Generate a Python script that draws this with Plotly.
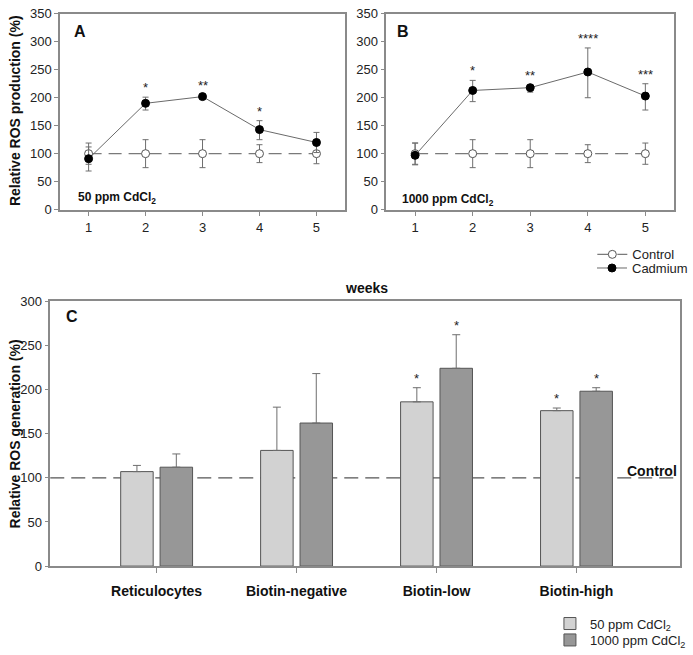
import plotly.graph_objects as go

# ---------------- data ----------------
weeks = [1, 2, 3, 4, 5]

a_control = [100, 100, 100, 100, 100]
a_control_err = [19, 25, 25, 16, 18]
a_cd = [91, 190, 202, 143, 120]
a_cd_err_plus = [21, 11, 3, 16, 18]
a_cd_err_minus = [22, 12, 3, 18, 18]
a_sig = ["", "*", "**", "*", ""]

b_control = [100, 100, 100, 100, 100]
b_control_err = [19, 25, 25, 16, 19]
b_cd = [97, 213, 218, 246, 203]
b_cd_err_plus = [22, 18, 4, 43, 22]
b_cd_err_minus = [17, 20, 8, 46, 25]
b_sig = ["", "*", "**", "****", "***"]

cells = ["Reticulocytes", "Biotin-negative", "Biotin-low", "Biotin-high"]
c_50 = [107, 131, 186, 176]
c_50_err = [7, 49, 16, 3]
c_1000 = [112, 162, 224, 198]
c_1000_err = [15, 56, 38, 4]
c_sig50 = ["", "", "*", "*"]
c_sig1000 = ["", "", "*", "*"]

W, H = 693, 655
FONT = "Arial, Liberation Sans, sans-serif"
AX = "#8a8a8a"
ERR = "#6e6e6e"

def px(x):
    return x / W

def py(y):
    return 1 - y / H

fig = go.Figure()

def add_panel(xa, ya, ctrl, ctrl_err, cd, cdp, cdm, show):
    fig.add_trace(go.Scatter(
        x=weeks, y=ctrl, xaxis=xa, yaxis=ya, name="Control", legend="legend",
        showlegend=show, mode="lines+markers",
        line=dict(color="#7a7a7a", width=1.2, dash="13px,7px"),
        marker=dict(symbol="circle", size=8, color="white", line=dict(color="#555", width=1)),
        error_y=dict(type="data", array=ctrl_err, color=ERR, thickness=1, width=3)))
    fig.add_trace(go.Scatter(
        x=weeks, y=cd, xaxis=xa, yaxis=ya, name="Cadmium", legend="legend3",
        showlegend=show, mode="lines+markers",
        line=dict(color="#6a6a6a", width=1),
        marker=dict(symbol="circle", size=8, color="black", line=dict(color="black", width=1)),
        error_y=dict(type="data", symmetric=False, array=cdp, arrayminus=cdm,
                     color=ERR, thickness=1, width=3)))

add_panel("x", "y", a_control, a_control_err, a_cd, a_cd_err_plus, a_cd_err_minus, False)
add_panel("x2", "y2", b_control, b_control_err, b_cd, b_cd_err_plus, b_cd_err_minus, True)

fig.add_trace(go.Bar(
    x=cells, y=c_50, xaxis="x3", yaxis="y3", name="50 ppm CdCl<sub>2</sub>", legend="legend2",
    marker=dict(color="#d2d2d2", line=dict(color="#555", width=1)),
    error_y=dict(type="data", symmetric=False, array=c_50_err, arrayminus=[0] * 4,
                 color=ERR, thickness=1, width=4)))
fig.add_trace(go.Bar(
    x=cells, y=c_1000, xaxis="x3", yaxis="y3", name="1000 ppm CdCl<sub>2</sub>", legend="legend4",
    marker=dict(color="#979797", line=dict(color="#555", width=1)),
    error_y=dict(type="data", symmetric=False, array=c_1000_err, arrayminus=[0] * 4,
                 color=ERR, thickness=1, width=4)))

ann = []
# significance stars panels A, B
for xa, ya, vals, errs, sig in [("x", "y", a_cd, a_cd_err_plus, a_sig),
                                ("x2", "y2", b_cd, b_cd_err_plus, b_sig)]:
    for w, v, e, s in zip(weeks, vals, errs, sig):
        if s:
            ann.append(dict(x=w, y=v + e, xref=xa, yref=ya, text=s, showarrow=False,
                            xanchor="center", yanchor="bottom", yshift=0,
                            font=dict(size=13, color="#222")))
# stars panel C
for i, (c, v, e, s) in enumerate(zip(cells, c_50, c_50_err, c_sig50)):
    if s:
        ann.append(dict(x=i, y=v + e, xref="x3", yref="y3", text=s, showarrow=False,
                        xshift=-20, xanchor="center", yanchor="bottom",
                        font=dict(size=13, color="#222")))
for i, (c, v, e, s) in enumerate(zip(cells, c_1000, c_1000_err, c_sig1000)):
    if s:
        ann.append(dict(x=i, y=v + e, xref="x3", yref="y3", text=s, showarrow=False,
                        xshift=20, xanchor="center", yanchor="bottom",
                        font=dict(size=13, color="#222")))

bold = dict(family=FONT, color="#111")

def note(x, y, text, size, xanchor="center", angle=0):
    return dict(x=px(x), y=py(y), xref="paper", yref="paper", text=text, showarrow=False,
                xanchor=xanchor, yanchor="middle", textangle=angle, font=dict(size=size, **bold))

ann += [
    note(73, 25, "<b>A</b>", 16, "left"),
    note(401, 25, "<b>B</b>", 16, "left"),
    note(65, 318, "<b>C</b>", 16, "left"),
    note(77, 196, "<b>50 ppm CdCl<sub>2</sub></b>", 12, "left"),
    note(406, 198, "<b>1000 ppm CdCl<sub>2</sub></b>", 12, "left"),
    note(372, 288, "<b>weeks</b>", 14),
    note(15, 106, "<b>Relative ROS production (%)</b>", 14, "center", -90),
    note(15, 438, "<b>Relative ROS generation (%)</b>", 14, "center", -90),
    dict(x=3.73, y=100, xref="x3", yref="y3", text="<b>Control</b>", showarrow=False,
         xanchor="right", yanchor="bottom", yshift=-3, font=dict(size=14, **bold)),
]

shapes = [dict(type="line", xref="x3 domain", yref="y3", x0=0, x1=1, y0=100, y1=100,
               line=dict(color="#555", width=1.2, dash="14px,7px"), layer="below")]

tickf = dict(family=FONT, size=13, color="#222")
common_x = dict(showline=True, linecolor=AX, linewidth=1.5, mirror=True, ticks="outside",
                ticklen=5, tickcolor=AX, showgrid=False, zeroline=False, tickfont=tickf)
common_y = dict(showline=True, linecolor=AX, linewidth=1.5, mirror=True, ticks="outside",
                ticklen=4, tickcolor=AX, showgrid=False, zeroline=False, tickfont=tickf)

legfont = dict(family=FONT, size=13, color="#222")
narrow = dict(family="Liberation Sans Narrow, Arial Narrow, " + FONT, size=13, color="#222")

def leg(x, y, font):
    return dict(x=px(x), y=py(y), xanchor="left", yanchor="middle", bgcolor="rgba(0,0,0,0)",
                font=font, tracegroupgap=0, itemwidth=30)

fig.update_layout(
    width=W, height=H, margin=dict(l=0, r=0, t=0, b=0),
    paper_bgcolor="white", plot_bgcolor="white",
    font=dict(family=FONT, color="#222"),
    xaxis=dict(domain=[px(61), px(350)], range=[0.5, 5.5], tickvals=weeks, anchor="y", **common_x),
    yaxis=dict(domain=[py(208), py(7)], range=[0, 350], dtick=50, anchor="x", **common_y),
    xaxis2=dict(domain=[px(392), px(684)], range=[0.5, 5.5], tickvals=weeks, anchor="y2", **common_x),
    yaxis2=dict(domain=[py(208), py(7)], range=[0, 350], dtick=50, anchor="x2", **common_y),
    xaxis3=dict(domain=[px(51), px(690)], range=[-0.76, 3.74], anchor="y3",
                **{**common_x, "ticklen": 5, "ticklabelstandoff": 6,
                   "tickfont": dict(family=FONT, size=14, color="#111", weight="bold")}),
    yaxis3=dict(domain=[py(574), py(302)], range=[0, 300], dtick=50, anchor="x3", **common_y),
    barmode="group", bargap=0.437, bargroupgap=0.175,
    annotations=ann, shapes=shapes,
    legend=leg(601, 254, legfont),
    legend3=leg(601, 268, legfont),
    legend2=leg(558, 633, narrow),
    legend4=leg(558, 650, narrow),
    showlegend=True,
)

fig.write_html("out.html", config={"displayModeBar": False},
               post_script="document.body.style.margin='0px';")
